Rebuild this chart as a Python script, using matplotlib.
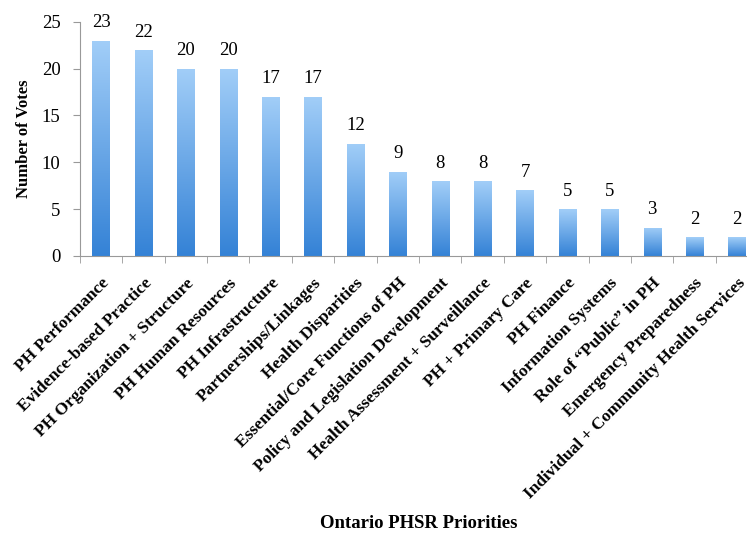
import numpy as np
import matplotlib
matplotlib.use("Agg")
from matplotlib import pyplot as plt
from matplotlib.colors import LinearSegmentedColormap

categories = [
    "PH Performance", "Evidence-based Practice", "PH Organization + Structure",
    "PH Human Resources", "PH Infrastructure", "Partnerships/Linkages",
    "Health Disparities", "Essential/Core Functions of PH",
    "Policy and Legislation Development", "Health Assessment + Surveillance",
    "PH + Primary Care", "PH Finance", "Information Systems",
    "Role of \u201cPublic\u201d in PH", "Emergency Preparedness",
    "Individual + Community Health Services",
]
votes = [23, 22, 20, 20, 17, 17, 12, 9, 8, 8, 7, 5, 5, 3, 2, 2]
yticks = [0, 5, 10, 15, 20, 25]

plt.rcParams['font.family'] = ['Liberation Serif', 'DejaVu Serif']

fig = plt.figure(figsize=(7.47, 5.34), dpi=100)
ax = fig.add_axes([0.107, 0.521, 0.908, 0.438])

x = np.arange(len(votes))
bw = 0.41
bars = ax.bar(x, votes, width=bw, color='none', edgecolor='none')

# gradient fill: light top, darker bottom
cmap = LinearSegmentedColormap.from_list("blu", ["#3482d6", "#a2cef8"])
grad = np.linspace(0, 1, 256).reshape(-1, 1)
for b in bars:
    x0, y0 = b.get_x(), b.get_y()
    w, h = b.get_width(), b.get_height()
    im = ax.imshow(grad, cmap=cmap, origin='lower', aspect='auto',
                   extent=[x0, x0 + w, y0, y0 + h], zorder=2)
    im.set_clip_path(b)

for xi, v in zip(x, votes):
    ax.text(xi, v + 1.0, str(v), ha='center', va='bottom', fontsize=13.5)

ax.set_xlim(-0.5, len(votes) - 0.5)
ax.set_ylim(0, 25)
ax.set_yticks(yticks)
ax.tick_params(axis='y', labelsize=13.5, length=5, color='#999999', pad=9)

ax.set_xticks(x)
ax.set_xticklabels(categories, rotation=45, ha='right', rotation_mode='anchor',
                   fontsize=12.5, fontweight='bold')
ax.tick_params(axis='x', which='major', length=0, pad=14)
ax.set_xticks(np.arange(len(votes) + 1) - 0.5, minor=True)
ax.tick_params(axis='x', which='minor', length=5, color='#999999')

for s in ['top', 'right']:
    ax.spines[s].set_visible(False)
ax.spines['left'].set_color('#999999')
ax.spines['bottom'].set_color('#999999')

ax.set_ylabel("Number of Votes", fontsize=12, fontweight='bold', labelpad=7)
fig.text(0.56, 0.003, "Ontario PHSR Priorities", ha='center', va='bottom',
         fontsize=13.5, fontweight='bold')

fig.savefig("out.png", dpi=100)
